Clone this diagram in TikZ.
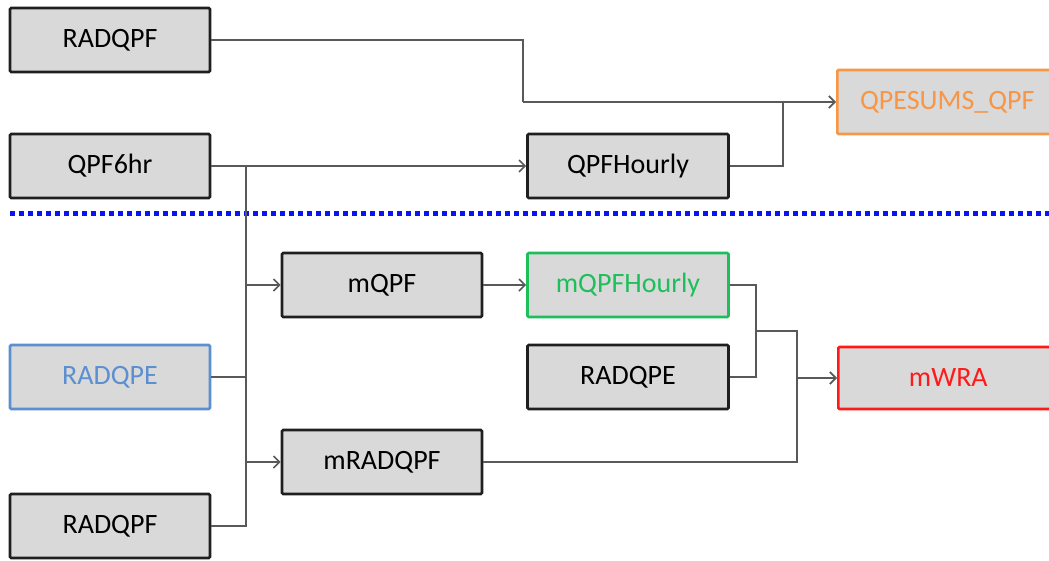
\documentclass[tikz,border=0pt]{standalone}
\usepackage{fontspec}
\setmainfont{Carlito}
\usetikzlibrary{arrows.meta}
\definecolor{boxfill}{HTML}{D9D9D9}
\definecolor{boxline}{HTML}{1F1F1F}
\definecolor{wire}{HTML}{595959}
\definecolor{qorange}{HTML}{F79646}
\definecolor{qgreen}{HTML}{1DBF5A}
\definecolor{qblue}{HTML}{5B8FD0}
\definecolor{qred}{HTML}{FF1A1A}
\definecolor{sepblue}{HTML}{0A14F0}
\tikzset{
  procbox/.style={draw=boxline, line width=2.6pt, fill=boxfill, rounded corners=1.2pt,
    minimum width=200pt, minimum height=64pt, inner sep=0pt,
    font=\fontsize{28}{32}\selectfont, text=black},
  widebox/.style={procbox, minimum width=220pt},
  wire/.style={draw=wire, line width=1.7pt},
  feed/.style={wire, -{Straight Barb[length=6pt,width=12pt,line width=1.7pt]}},
  separator/.style={draw=sepblue, line width=5pt, dash pattern=on 5pt off 4pt}
}
\begin{document}
\begin{tikzpicture}[x=1pt,y=-1pt]
\path[use as bounding box] (0,0) rectangle (1049,560);
\begin{scope}
\clip (0,0) rectangle (1049,560);

% upper section
\node[procbox] (r1) at (110,40) {RADQPF};
\node[procbox] (q6) at (110,166) {QPF6hr};
\node[procbox, minimum width=201pt] (qh) at (628,166) {QPFHourly};
\node[widebox, draw=qorange, text=qorange, anchor=west] (qs) at (836,102) {QPESUMS\_QPF};

% lower section
\node[procbox, draw=qblue, text=qblue] (rpe) at (110,377) {RADQPE};
\node[procbox] (r2) at (110,526) {RADQPF};
\node[procbox] (mq) at (382,285) {mQPF};
\node[procbox, minimum width=201pt, draw=qgreen, text=qgreen] (mqh) at (628,285) {mQPFHourly};
\node[procbox, minimum width=201pt] (rpe2) at (628,377) {RADQPE};
\node[procbox] (mr) at (382,462) {mRADQPF};
\node[widebox, minimum height=62pt, draw=qred, text=qred, anchor=west] (mw) at (837,378) {mWRA};

% separator between the two sections
\coordinate (sl) at (10,213);
\coordinate (sr) at (1049,213);
\draw[separator] (sl) -- (sr);

% junction points
\coordinate (j1) at (523,102);
\coordinate (j2) at (783,102);
\coordinate (bus) at (246,166);
\coordinate (j3) at (756,331);
\coordinate (j4) at (797,331);

% upper connectors
\draw[wire] (r1.east) -| (j1);
\draw[feed] (j1) -- (qs.west);
\draw[wire] (qh.east) -| (j2);
\draw[feed] (q6.east) -- (qh.west);

% input bus
\draw[wire] (bus) |- (r2.east);
\draw[wire] (rpe.east) -- (rpe.east -| bus);
\draw[feed] (mq.west -| bus) -- (mq.west);
\draw[feed] (mr.west -| bus) -- (mr.west);

% lower connectors
\draw[feed] (mq.east) -- (mqh.west);
\draw[wire] (mqh.east) -| (j3) |- (rpe2.east);
\draw[wire] (j3) -- (j4) |- (mr.east);
\draw[feed] (mw.west -| j4) -- (mw.west);
\end{scope}
\end{tikzpicture}
\end{document}
